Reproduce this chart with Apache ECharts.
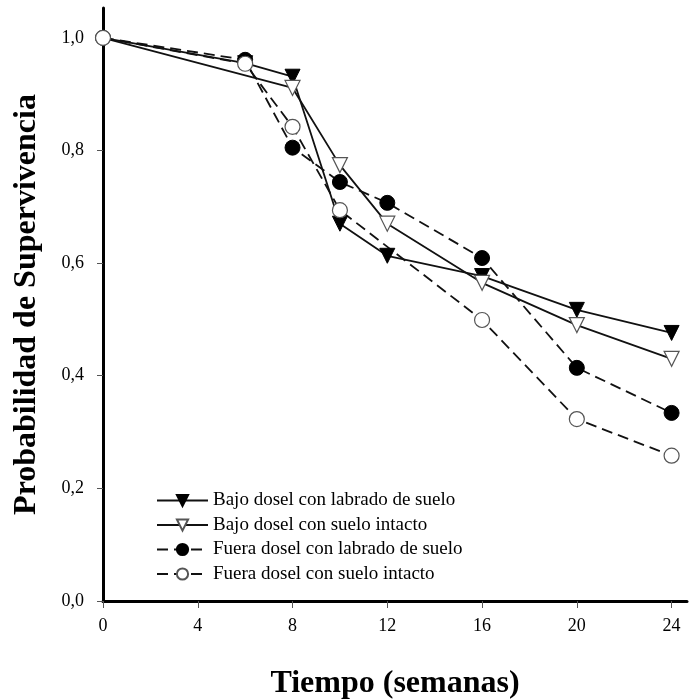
<!DOCTYPE html>
<html>
<head>
<meta charset="utf-8">
<script src="https://cdn.jsdelivr.net/npm/echarts@6/dist/echarts.min.js"></script>
<style>
  html, body { margin: 0; padding: 0; background: #fff; }
  #chart { width: 689px; height: 700px; }
</style>
</head>
<body>
<div id="chart"></div>
<script>
var names = [
    'Bajo dosel con labrado de suelo',
    'Bajo dosel con suelo intacto',
    'Fuera dosel con labrado de suelo',
    'Fuera dosel con suelo intacto'
];
// semanas y probabilidad de supervivencia
var bajoLabradoX = [0, 6, 8, 10, 12, 16, 20, 24];
var bajoLabradoY = [1.0, 0.955, 0.931, 0.670, 0.613, 0.577, 0.517, 0.476];
var bajoIntactoX = [0, 8, 10, 12, 16, 20, 24];
var bajoIntactoY = [1.0, 0.911, 0.774, 0.670, 0.565, 0.490, 0.430];
var fueraLabradoX = [0, 6, 8, 10, 12, 16, 20, 24];
var fueraLabradoY = [1.0, 0.961, 0.805, 0.744, 0.707, 0.609, 0.414, 0.334];
var fueraIntactoX = [0, 6, 8, 10, 16, 20, 24];
var fueraIntactoY = [1.0, 0.954, 0.842, 0.694, 0.499, 0.323, 0.258];

var xTicks = [0, 4, 8, 12, 16, 20, 24];
var yTicks = [0, 0.2, 0.4, 0.6, 0.8, 1.0];

// the shared start point is only drawn as the open circle
function pairs(xs, ys, hideStart) {
    return xs.map(function (x, i) {
        if (hideStart && i === 0) return { value: [x, ys[i]], symbol: 'none' };
        return [x, ys[i]];
    });
}

var serif = '"Liberation Serif", "Times New Roman", serif';

var myChart = echarts.init(document.getElementById('chart'));
option = {
    backgroundColor: '#fff',
    animation: false,
    textStyle: { fontFamily: serif, color: '#000' },
    grid: { left: 103, right: 2, top: 8, bottom: 99, containLabel: false, outerBoundsMode: 'none' },
    legend: {
        orient: 'vertical',
        left: 151,
        top: 486,
        itemWidth: 51,
        itemHeight: 14,
        itemGap: 5.5,
        textStyle: { fontFamily: serif, fontSize: 19, lineHeight: 19, color: '#000' },
        data: names
    },
    xAxis: {
        type: 'value',
        min: 0,
        max: 24.65,
        name: 'Tiempo (semanas)',
        nameLocation: 'middle',
        nameGap: 67,
        nameTextStyle: { fontFamily: serif, fontSize: 32, fontWeight: 'bold', color: '#000' },
        splitLine: { show: false },
        axisLine: { onZero: false, lineStyle: { color: '#000', width: 3 } },
        axisTick: { customValues: xTicks, length: 7, lineStyle: { color: '#555', width: 1 } },
        axisLabel: {
            customValues: xTicks,
            margin: 16,
            fontFamily: serif, fontSize: 18, color: '#000'
        }
    },
    yAxis: {
        type: 'value',
        min: 0,
        max: 1.053,
        name: 'Probabilidad de Supervivencia',
        nameLocation: 'middle',
        nameGap: 60,
        nameTextStyle: { fontFamily: serif, fontSize: 32, fontWeight: 'bold', color: '#000' },
        splitLine: { show: false },
        axisLine: { onZero: false, lineStyle: { color: '#000', width: 3 } },
        axisTick: { customValues: yTicks, length: 6, lineStyle: { color: '#555', width: 1 } },
        axisLabel: {
            customValues: yTicks,
            margin: 19,
            fontFamily: serif, fontSize: 18, color: '#000',
            formatter: function (v) { return v.toFixed(1).replace('.', ','); }
        }
    },
    series: [
        {
            name: names[0],
            type: 'line',
            data: pairs(bajoLabradoX, bajoLabradoY, true),
            symbol: 'triangle',
            symbolRotate: 180,
            symbolSize: 15,
            lineStyle: { color: '#111', width: 1.8, type: 'solid' },
            itemStyle: { color: '#000', borderColor: '#000', borderWidth: 1 }
        },
        {
            name: names[1],
            type: 'line',
            data: pairs(bajoIntactoX, bajoIntactoY, true),
            symbol: 'triangle',
            symbolRotate: 180,
            symbolSize: 15,
            lineStyle: { color: '#111', width: 1.8, type: 'solid' },
            itemStyle: { color: '#fff', borderColor: '#555', borderWidth: 1.2 }
        },
        {
            name: names[2],
            type: 'line',
            data: pairs(fueraLabradoX, fueraLabradoY, false),
            symbol: 'circle',
            symbolSize: 15,
            lineStyle: { color: '#111', width: 1.8, type: [11, 6] },
            itemStyle: { color: '#000', borderColor: '#000', borderWidth: 1 }
        },
        {
            name: names[3],
            type: 'line',
            data: pairs(fueraIntactoX, fueraIntactoY, false),
            symbol: 'circle',
            symbolSize: 15,
            lineStyle: { color: '#111', width: 1.8, type: [11, 6] },
            itemStyle: { color: '#fff', borderColor: '#555', borderWidth: 1.2 }
        }
    ]
};
myChart.setOption(option);
</script>
</body>
</html>
